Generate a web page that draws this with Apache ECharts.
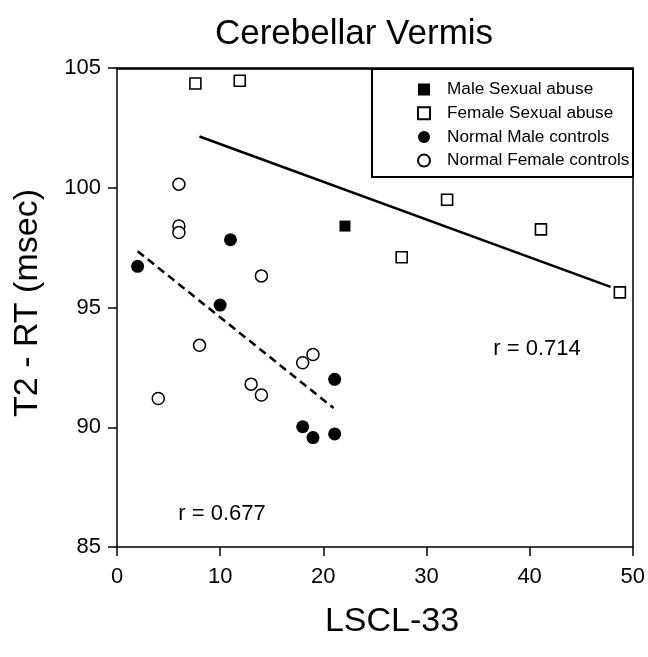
<!DOCTYPE html>
<html>
<head>
<meta charset="utf-8">
<script src="https://cdn.jsdelivr.net/npm/echarts@6/dist/echarts.min.js"></script>
<style>html,body{margin:0;padding:0;background:#fff;}#c{width:648px;height:657px;}</style>
</head>
<body>
<div id="c"></div>
<script>
// ---- data ----
const xTicks = [0, 10, 20, 30, 40, 50];
const yTicks = [85, 90, 95, 100, 105];
const maleAbuse = [[22.1, 98.4]];
const femaleAbuse = [[7.6, 104.35], [11.9, 104.47], [27.6, 97.1], [32.0, 99.5], [41.1, 98.26], [48.75, 95.63]];
const maleControls = [[2.0, 96.72], [11.0, 97.83], [10.0, 95.1], [21.1, 92.0], [18.0, 90.02], [19.0, 89.57], [21.1, 89.72]];
const femaleControls = [[6.0, 100.15], [6.0, 98.4], [6.0, 98.13], [14.0, 96.32], [8.0, 93.42], [13.0, 91.8], [14.0, 91.35], [4.0, 91.2], [18.0, 92.69], [19.0, 93.04]];
const abuseFit = [[8.0, 102.14], [47.85, 95.86]];
const controlFit = [[2.0, 97.35], [21.0, 90.8]];
const rAbuse = 'r = 0.714';
const rControl = 'r = 0.677';

const FONT = 'Liberation Sans, Arial, Helvetica, sans-serif';
const SQUARE = 'path://M0,0L10,0L10,10L0,10Z';
const chart = echarts.init(document.getElementById('c'), null, {renderer: 'canvas'});

const gridL = 117, gridT = 68, gridR = 15, gridB = 110;

chart.setOption({
  animation: false,
  backgroundColor: '#fff',
  textStyle: {fontFamily: FONT, color: '#000'},
  grid: {left: gridL, top: gridT, right: gridR, bottom: gridB, show: false},
  legend: {
    orient: 'vertical',
    left: 417, top: 81,
    itemWidth: 36, itemHeight: 12, itemGap: 6.7,
    padding: 0,
    symbolKeepAspect: true,
    textStyle: {fontSize: 17.2, fontFamily: FONT, color: '#000'},
    data: [
      {name: 'Male Sexual abuse', icon: SQUARE},
      {name: 'Female Sexual abuse', icon: SQUARE},
      {name: 'Normal Male controls', icon: 'circle'},
      {name: 'Normal Female controls', icon: 'circle'}
    ],
    selectedMode: false
  },
  xAxis: [{
    type: 'value', min: 0, max: 50, interval: 10,
    axisLine: {show: true, onZero: false, lineStyle: {color: '#000', width: 1.5}},
    axisTick: {show: true, inside: false, length: 9, lineStyle: {color: '#000', width: 1.5}},
    axisLabel: {show: true, fontSize: 22, color: '#000', fontFamily: FONT, margin: 19,
      formatter: v => xTicks.includes(v) ? String(v) : ''},
    splitLine: {show: false}
  }, {
    type: 'value', position: 'top', min: 0, max: 50,
    axisLine: {show: true, onZero: false, lineStyle: {color: '#000', width: 2.5}},
    axisTick: {show: false}, axisLabel: {show: false}, splitLine: {show: false}
  }],
  yAxis: [{
    type: 'value', min: 85, max: 105, interval: 5,
    axisLine: {show: true, onZero: false, lineStyle: {color: '#000', width: 1.5}},
    axisTick: {show: true, inside: false, length: 9, lineStyle: {color: '#000', width: 1.5}},
    axisLabel: {show: true, fontSize: 22, color: '#000', fontFamily: FONT, margin: 16,
      formatter: v => yTicks.includes(v) ? String(v) : ''},
    splitLine: {show: false}
  }, {
    type: 'value', position: 'right', min: 85, max: 105,
    axisLine: {show: true, onZero: false, lineStyle: {color: '#000', width: 1.5}},
    axisTick: {show: false}, axisLabel: {show: false}, splitLine: {show: false}
  }],
  series: [
    {name: 'Abuse fit', type: 'line', data: abuseFit, symbol: 'none', silent: true,
      lineStyle: {color: '#000', width: 2.5, type: 'solid'}, z: 1},
    {name: 'Control fit', type: 'line', data: controlFit, symbol: 'none', silent: true,
      lineStyle: {color: '#000', width: 2.5, type: [8, 5]}, z: 1},
    {name: 'Male Sexual abuse', type: 'scatter', data: maleAbuse, symbol: 'rect', symbolSize: 11,
      itemStyle: {color: '#000', opacity: 1}, z: 3},
    {name: 'Female Sexual abuse', type: 'scatter', data: femaleAbuse, symbol: 'rect', symbolSize: 11,
      itemStyle: {color: '#fff', borderColor: '#000', borderWidth: 1.6, opacity: 1}, z: 3},
    {name: 'Normal Male controls', type: 'scatter', data: maleControls, symbol: 'circle', symbolSize: 13,
      itemStyle: {color: '#000', opacity: 1}, z: 3},
    {name: 'Normal Female controls', type: 'scatter', data: femaleControls, symbol: 'circle', symbolSize: 12,
      itemStyle: {color: '#fff', borderColor: '#000', borderWidth: 1.5, opacity: 1}, z: 3}
  ],
  graphic: [
    {type: 'rect', shape: {x: 372, y: 69, width: 261, height: 108}, silent: true, z: 0,
      style: {fill: '#fff', stroke: '#000', lineWidth: 2}},
    {type: 'text', x: 354, y: 34, silent: true,
      style: {text: 'Cerebellar Vermis', font: '35px ' + FONT, fill: '#000', textAlign: 'center', textVerticalAlign: 'middle'}},
    {type: 'text', x: 392, y: 622, silent: true,
      style: {text: 'LSCL-33', font: '34px ' + FONT, fill: '#000', textAlign: 'center', textVerticalAlign: 'middle'}},
    {type: 'text', x: 28, y: 303, rotation: Math.PI / 2, silent: true,
      style: {text: 'T2 - RT (msec)', font: '34px ' + FONT, fill: '#000', textAlign: 'center', textVerticalAlign: 'middle'}},
    {type: 'text', x: 537, y: 349, silent: true,
      style: {text: rAbuse, font: '22px ' + FONT, fill: '#000', textAlign: 'center', textVerticalAlign: 'middle'}},
    {type: 'text', x: 222, y: 514, silent: true,
      style: {text: rControl, font: '22px ' + FONT, fill: '#000', textAlign: 'center', textVerticalAlign: 'middle'}}
  ]
});
</script>
</body>
</html>
